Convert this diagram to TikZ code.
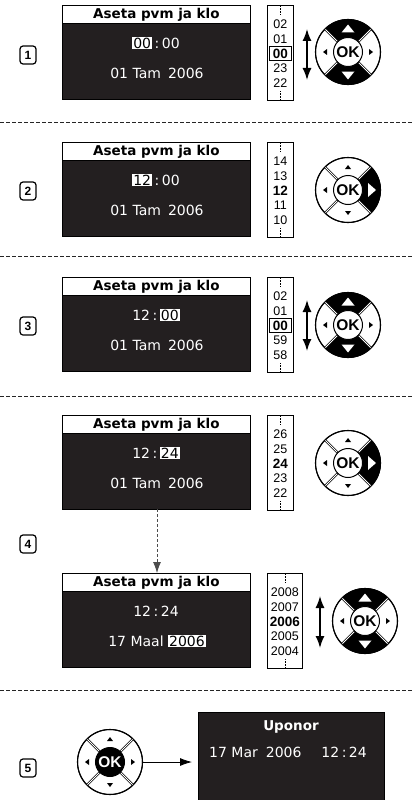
\documentclass[tikz,border=0pt]{standalone}
\usepackage{fontspec}
\newfontfamily\dv{DejaVu Sans}
\newfontfamily\lib{Liberation Sans}
\usetikzlibrary{arrows.meta,calc}
\definecolor{scrbg}{RGB}{35,31,32}
\newcommand\hlb[1]{{\setlength{\fboxsep}{1pt}\colorbox{white}{\color{black}#1}}}
\newcommand\cln{\hspace{2.5pt}:\hspace{2.5pt}}
\tikzset{
  scr/.style={draw=black, line width=0.8pt, fill=scrbg, anchor=north west, minimum width=188pt, minimum height=94pt, inner sep=0pt, outer sep=0pt},
  ttl/.style={draw=black, line width=0.8pt, fill=white, anchor=north west, minimum width=188pt, minimum height=18pt, inner sep=0pt, font=\dv\bfseries\fontsize{13.5}{14}\selectfont},
  scrtxt/.style={text=white, inner sep=0pt, font=\dv\fontsize{14}{16}\selectfont},
  scroll/.style={draw=black, line width=0.7pt, fill=white, anchor=north west, minimum height=95pt, inner sep=0pt},
  tick/.style={dash pattern=on 2pt off 1pt, line width=0.5pt},
  num/.style={inner sep=0pt, font=\lib\fontsize{12.5}{13}\selectfont},
  numsel/.style={inner sep=0pt, font=\lib\bfseries\fontsize{13.5}{14}\selectfont},
  selbox/.style={draw=black, line width=0.8pt, minimum width=22pt, minimum height=14pt},
  lbl/.style={draw=black, line width=1.2pt, rounded corners=3pt, minimum width=16pt, minimum height=18pt, inner sep=0pt, font=\lib\bfseries\fontsize{12}{13}\selectfont},
  sepline/.style={dash pattern=on 4pt off 2pt, line width=0.6pt, black!85},
  ud/.style={line width=1.5pt, {Latex[length=12pt,width=9pt]}-{Latex[length=12pt,width=9pt]}},
}
\newcommand\myscreen[4]{%
  \node[scr] (#1) at (62,#2) {};
  \node[ttl] (#1t) at (62,#2) {Aseta pvm ja klo};
  \node[scrtxt] (#1a) at (156,#2+38) {#3};
  \node[scrtxt] (#1b) at (157,#2+68) {#4};}
\newcommand\myscroll[9][26]{%
  \node[scroll, minimum width=#1pt] (#2) at (267,#3) {};
  \draw[tick] (#2.north) -- ++(0,10);
  \draw[tick] (#2.south) -- ++(0,-10);
  \node[num] (#2n1) at ($(#2.north)+(0,19)$) {#4};
  \node[num] (#2n2) at ($(#2.north)+(0,34)$) {#5};
  \node[numsel,#9] (#2n3) at ($(#2.north)+(0,48.5)$) {#6};
  \node[num] (#2n4) at ($(#2.north)+(0,63)$) {#7};
  \node[num] (#2n5) at ($(#2.north)+(0,78)$) {#8};}
\newcommand\mydpad[5]{%
\begin{scope}[shift={#2}]
  \node[circle, draw=black, line width=1pt, fill=white, minimum size=65pt, inner sep=0pt] (#1) at (0,0) {};
  \ifnum#3=1
    \fill[black] (45:32.5pt) arc[start angle=45,end angle=135,radius=32.5pt] -- (135:14.5pt) arc[start angle=135,end angle=45,radius=14.5pt] -- cycle;
    \fill[black] (225:32.5pt) arc[start angle=225,end angle=315,radius=32.5pt] -- (315:14.5pt) arc[start angle=315,end angle=225,radius=14.5pt] -- cycle;
    \fill[white] (-6.5pt,19.5pt) -- (6.5pt,19.5pt) -- (0pt,27.5pt) -- cycle;
    \fill[white] (-6.5pt,-19.5pt) -- (6.5pt,-19.5pt) -- (0pt,-27.5pt) -- cycle;
  \else
    \fill[black] (-3pt,21pt) -- (3pt,21pt) -- (0pt,25pt) -- cycle;
    \fill[black] (-3pt,-21pt) -- (3pt,-21pt) -- (0pt,-25pt) -- cycle;
  \fi
  \ifnum#4=1
    \fill[black] (-45:32.5pt) arc[start angle=-45,end angle=45,radius=32.5pt] -- (45:14.5pt) arc[start angle=45,end angle=-45,radius=14.5pt] -- cycle;
    \fill[white] (20pt,-7pt) -- (20pt,7pt) -- (28pt,0pt) -- cycle;
  \else
    \fill[black] (21pt,-3pt) -- (21pt,3pt) -- (25pt,0pt) -- cycle;
  \fi
  \fill[black] (-21pt,-3pt) -- (-21pt,3pt) -- (-25pt,0pt) -- cycle;
  \draw[black, line width=1.1pt] (0pt,0pt) circle[radius=32.5pt];
  \foreach \a in {45,135,225,315}{
    \draw[black, line width=2.4pt] (\a:14.5pt) -- (\a:32.5pt);
    \draw[white, line width=0.8pt] (\a:15.1pt) -- (\a:31.9pt);}
  \ifnum#5=1
    \node[circle, draw=black, line width=1pt, fill=black, text=white, minimum size=29pt, inner sep=0pt, font=\lib\bfseries\fontsize{15.5}{16}\selectfont] (#1ok) at (0,0) {OK};
  \else
    \node[circle, draw=black, line width=1pt, fill=white, text=black, minimum size=29pt, inner sep=0pt, font=\lib\bfseries\fontsize{15.5}{16}\selectfont] (#1ok) at (0,0) {OK};
  \fi
\end{scope}}
\begin{document}
\begin{tikzpicture}[x=1pt,y=-1pt]
\path[use as bounding box, fill=white] (0,0) rectangle (414,800);

% separators
\draw[sepline] (0,122) -- (414,122);
\draw[sepline] (0,256) -- (414,256);
\draw[sepline] (0,396) -- (414,396);
\draw[sepline] (0,690) -- (414,690);

% step labels
\node[lbl] (l1) at (28,55) {1};
\node[lbl] (l2) at (28,191) {2};
\node[lbl] (l3) at (28,326) {3};
\node[lbl] (l4) at (28,544) {4};
\node[lbl] (l5) at (28,768) {5};

% row 1
\myscreen{s1}{5}{\hlb{00}\cln 00}{01 Tam\hspace{7pt}2006}
\myscroll{c1}{5}{02}{01}{00}{23}{22}{selbox}
\coordinate (u1a) at (307,29); \coordinate (u1b) at (307,80);
\draw[ud] (u1a) -- (u1b);
\mydpad{d1}{(348,52)}{1}{0}{0}

% row 2
\myscreen{s2}{142}{\hlb{12}\cln 00}{01 Tam\hspace{7pt}2006}
\myscroll{c2}{142}{14}{13}{12}{11}{10}{}
\mydpad{d2}{(348,190)}{0}{1}{0}

% row 3
\myscreen{s3}{277}{12\cln\hlb{00}}{01 Tam\hspace{7pt}2006}
\myscroll{c3}{277}{02}{01}{00}{59}{58}{selbox}
\coordinate (u3a) at (307,300); \coordinate (u3b) at (307,351);
\draw[ud] (u3a) -- (u3b);
\mydpad{d3}{(348,325)}{1}{0}{0}

% row 4a
\myscreen{s4}{415}{12\cln\hlb{24}}{01 Tam\hspace{7pt}2006}
\myscroll{c4}{415}{26}{25}{24}{23}{22}{}
\mydpad{d4}{(348,463)}{0}{1}{0}

% row 4b
\myscreen{s4b}{573}{12\cln 24}{17 Maal \hlb{2006}}
\myscroll[35]{c4b}{573}{2008}{2007}{2006}{2005}{2004}{}
\coordinate (u4a) at (320,596); \coordinate (u4b) at (320,648);
\draw[ud] (u4a) -- (u4b);
\mydpad{d4b}{(365,621)}{1}{0}{0}

% dashed arrow between the two screens of step 4
\coordinate (dx) at (157,0);
\draw[dash pattern=on 3pt off 2pt, line width=0.8pt, black!70, -{Latex[length=11pt,width=8pt]}] (s4.south -| dx) -- (s4b.north -| dx);

% row 5
\node[scr, minimum width=186pt, minimum height=92pt] (s5) at (198,712) {};
\node[scrtxt, font=\dv\bfseries\fontsize{13.5}{14}\selectfont] (s5t) at (291,727) {Uponor};
\node[scrtxt] (s5d) at (288,752) {17 Mar\hspace{8pt}2006\hspace{20pt}12\cln 24};
\mydpad{d5}{(110,762)}{0}{0}{1}
\draw[line width=0.8pt, -{Latex[length=12pt,width=8pt]}, shorten >=6pt] (d5.east) -- (d5.east -| s5.west);
\end{tikzpicture}
\end{document}
